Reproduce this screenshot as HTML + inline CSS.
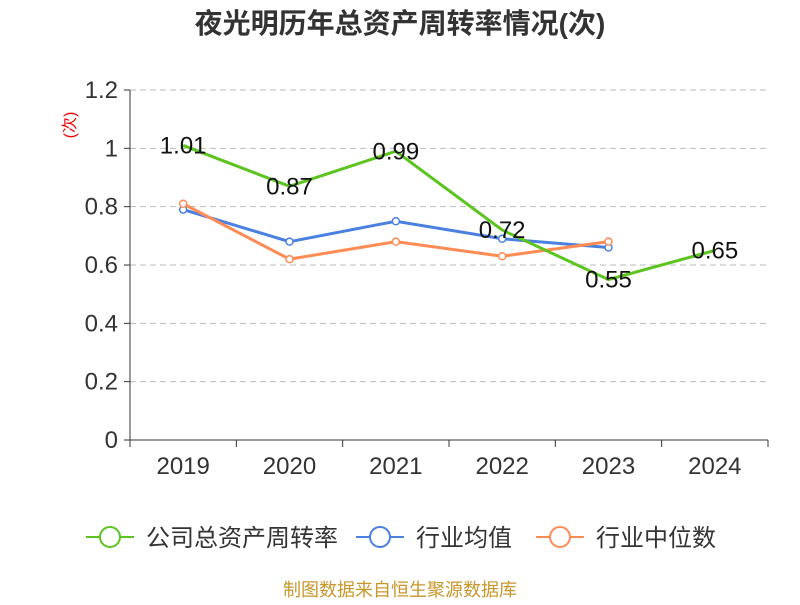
<!DOCTYPE html>
<html><head><meta charset="utf-8"><style>
body{margin:0;background:#fff;}
svg text{font-family:"Liberation Sans","Noto Sans CJK SC",sans-serif;}
</style></head><body>
<svg id="c" width="800" height="600" xmlns="http://www.w3.org/2000/svg">
<text x="400" y="33" text-anchor="middle" font-size="28" font-weight="bold" fill="#333">夜光明历年总资产周转率情况(次)</text>
<text transform="translate(75,125) rotate(-90)" text-anchor="middle" font-size="16" fill="#e00">(次)</text>
<g id="grid"></g><g id="axes"></g><g id="series"></g>
<g>
<g><line x1="86" y1="537" x2="134" y2="537" stroke="#5cc41f" stroke-width="2"/><circle cx="110" cy="537" r="10" fill="#fff" stroke="#5cc41f" stroke-width="2"/><text x="146" y="546" font-size="24" fill="#333">公司总资产周转率</text></g>
<g><line x1="356" y1="537" x2="404" y2="537" stroke="#4a80e0" stroke-width="2"/><circle cx="380" cy="537" r="10" fill="#fff" stroke="#4a80e0" stroke-width="2"/><text x="416" y="546" font-size="24" fill="#333">行业均值</text></g>
<g><line x1="536" y1="537" x2="584" y2="537" stroke="#ff8c55" stroke-width="2"/><circle cx="560" cy="537" r="10" fill="#fff" stroke="#ff8c55" stroke-width="2"/><text x="596" y="546" font-size="24" fill="#333">行业中位数</text></g>
</g>
<text x="400" y="596" text-anchor="middle" font-size="18" fill="#c8962a">制图数据来自恒生聚源数据库</text>
</svg>
<script>
const categories=["2019","2020","2021","2022","2023","2024"];
const companyValues=[1.01,0.87,0.99,0.72,0.55,0.65];
const avgValues=[0.79,0.68,0.75,0.69,0.66,null];
const medianValues=[0.81,0.62,0.68,0.63,0.68,null];
const yTicks=[0,0.2,0.4,0.6,0.8,1,1.2];
const yTickLabels=["0","0.2","0.4","0.6","0.8","1","1.2"];
const NS="http://www.w3.org/2000/svg";
const X0=130,X1=768,Y0=440,Y1=90,YMAX=1.2;
const bw=(X1-X0)/categories.length;
function x(i){return X0+bw*(i+0.5);}
function y(v){return Y0-(v/YMAX)*(Y0-Y1);}
function mk(t,a,p){const e=document.createElementNS(NS,t);for(const k in a)e.setAttribute(k,a[k]);p.appendChild(e);return e;}
const grid=document.getElementById('grid'),axes=document.getElementById('axes'),ser=document.getElementById('series');
yTicks.forEach((v,i)=>{
 if(v>0){const l=mk('line',{x1:X0,x2:X1,y1:y(v),y2:y(v),stroke:'#bbb','stroke-dasharray':'6,4'},grid);
 
 }
 const t=mk('line',{x1:X0-6,x2:X0,y1:y(v),y2:y(v),stroke:'#333'},axes);
 
 
 const tx=mk('text',{x:X0-12,y:y(v)+8,'text-anchor':'end','font-size':24,fill:'#333'},axes);tx.textContent=yTickLabels[i];
 
 
});
const ya=mk('line',{x1:X0,x2:X0,y1:Y1,y2:Y0,stroke:'#333'},axes);


const xa=mk('line',{x1:X0,x2:X1,y1:Y0,y2:Y0,stroke:'#333'},axes);


for(let i=0;i<=categories.length;i++){const t=mk('line',{x1:X0+bw*i,x2:X0+bw*i,y1:Y0,y2:Y0+7,stroke:'#333'},axes);
 
 }
categories.forEach((c,i)=>{const t=mk('text',{x:x(i),y:Y0+34,'text-anchor':'middle','font-size':24,fill:'#333'},axes);t.textContent=c;
 
 });
function line(vals,color,name,markers){
 const pts=[];vals.forEach((v,i)=>{if(v!=null)pts.push([x(i),y(v),v]);});
 const p=mk('polyline',{points:pts.map(p=>p[0]+','+p[1]).join(' '),fill:'none',stroke:color,'stroke-width':3},ser);
 
 
 pts.forEach(pt=>{
  if(markers){const c=mk('circle',{cx:pt[0],cy:pt[1],r:3.5,fill:'#fff',stroke:color,'stroke-width':1.5},ser);
  
  }
 });
 return pts;
}
line(avgValues,'#4a80e0','industry-avg',true);
line(medianValues,'#ff8c55','industry-median',true);
const gp=line(companyValues,'#5cc41f','company',false);
gp.forEach(pt=>{const t=mk('text',{x:pt[0],y:pt[1]+8,'text-anchor':'middle','font-size':24,fill:'#111'},ser);t.textContent=pt[2].toFixed(2);
 
 });
</script>
</body></html>
